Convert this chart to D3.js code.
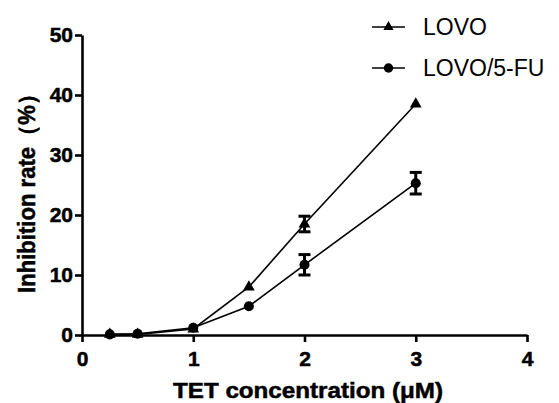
<!DOCTYPE html>
<html>
<head>
<meta charset="utf-8">
<script src="https://d3js.org/d3.v7.min.js"></script>
<style>
  body { margin: 0; background: #fff; }
  svg { font-family: "Liberation Sans", Arial, sans-serif; }
</style>
</head>
<body>
<div id="chart"></div>
<script>
// readings from the figure
let conc = [0.25, 0.5, 1, 1.5, 2, 3];
let lovo = [0.1, 0.1, 1.0, 8.0, 18.5, 38.5];
let lovoErr = [0, 0, 0, 0, 1.3, 0];
let lovo5fu = [0.1, 0.2, 1.2, 4.8, 11.7, 25.3];
let lovo5fuErr = [0, 0, 0, 0, 1.7, 1.8];
let xTicks = [0, 1, 2, 3, 4];
let yTicks = [0, 10, 20, 30, 40, 50];
let seriesNames = ["LOVO", "LOVO/5-FU"];

const width = 559,
    height = 403;

let x = d3.scaleLinear().domain([0, 4]).range([82, 527]);
let y = d3.scaleLinear().domain([0, 50]).range([335, 35]);

let svg = d3.select("#chart")
    .append("svg")
    .attr("width", width)
    .attr("height", height);

// axes
let xAxis = svg.append("g")
    .attr("transform", "translate(0," + y(0) + ")")
    .call(d3.axisBottom(x).tickValues(xTicks).tickFormat(d3.format("d")).tickSize(7).tickSizeOuter(0));
let yAxis = svg.append("g")
    .attr("transform", "translate(" + x(0) + ",0)")
    .call(d3.axisLeft(y).tickValues(yTicks).tickSize(7).tickSizeOuter(0));

[xAxis, yAxis].forEach(function (a) {
    a.select(".domain").attr("stroke", "#000").attr("stroke-width", 2.6);
    a.selectAll(".tick line").attr("stroke", "#000").attr("stroke-width", 2.6);
    a.selectAll("text")
        .attr("fill", "#000")
        .attr("stroke", "#000")
        .attr("stroke-width", 0.5)
        .style("font-size", "21px")
        .style("font-weight", "bold");
});
xAxis.selectAll("text").attr("dy", "1.0em");
yAxis.selectAll("text").attr("x", -9);

// axis titles
svg.append("text")
    .attr("x", 308)
    .attr("y", 398)
    .attr("text-anchor", "middle")
    .attr("stroke", "#000")
    .attr("stroke-width", 0.5)
    .style("font-size", "22px")
    .style("font-weight", "bold")
    .attr("textLength", 270)
    .attr("lengthAdjust", "spacingAndGlyphs")
    .text("TET concentration (μM)");

svg.append("text")
    .attr("transform", "translate(35,188) rotate(-90)")
    .attr("text-anchor", "middle")
    .attr("stroke", "#000")
    .attr("stroke-width", 0.5)
    .style("font-size", "23px")
    .style("font-weight", "bold")
    .attr("textLength", 210)
    .attr("lengthAdjust", "spacingAndGlyphs")
    .text("Inhibition rate（%）");

let series = [
    { name: seriesNames[0], values: lovo, err: lovoErr, symbol: d3.symbolTriangle },
    { name: seriesNames[1], values: lovo5fu, err: lovo5fuErr, symbol: d3.symbolCircle }
];

let line = d3.line()
    .x(function (d) { return x(d[0]); })
    .y(function (d) { return y(d[1]); });

series.forEach(function (s) {
    let pts = conc.map(function (c, i) { return [c, s.values[i], s.err[i]]; });

    svg.append("path")
        .datum(pts)
        .attr("d", line)
        .attr("fill", "none")
        .attr("stroke", "#000")
        .attr("stroke-width", 1.6);

    let eb = svg.append("g")
        .selectAll("g")
        .data(pts.filter(function (d) { return d[2] > 0; }))
        .enter()
        .append("g");
    eb.append("line")
        .attr("x1", function (d) { return x(d[0]); })
        .attr("x2", function (d) { return x(d[0]); })
        .attr("y1", function (d) { return y(d[1] - d[2]); })
        .attr("y2", function (d) { return y(d[1] + d[2]); })
        .attr("stroke", "#000")
        .attr("stroke-width", 3);
    [-1, 1].forEach(function (sg) {
        eb.append("line")
            .attr("x1", function (d) { return x(d[0]) - 6; })
            .attr("x2", function (d) { return x(d[0]) + 6; })
            .attr("y1", function (d) { return y(d[1] + sg * d[2]); })
            .attr("y2", function (d) { return y(d[1] + sg * d[2]); })
            .attr("stroke", "#000")
            .attr("stroke-width", 3);
    });

    svg.append("g")
        .selectAll("path")
        .data(pts)
        .enter()
        .append("path")
        .attr("d", d3.symbol().type(s.symbol).size(s.symbol === d3.symbolCircle ? 80 : 60))
        .attr("transform", function (d) { return "translate(" + x(d[0]) + "," + y(d[1]) + ")"; })
        .attr("fill", "#000");
});

// legend
let legend = svg.append("g")
    .selectAll("g")
    .data(series)
    .enter()
    .append("g")
    .attr("transform", function (d, i) { return "translate(372," + (27 + i * 41) + ")"; });
legend.append("line")
    .attr("x1", 0).attr("x2", 33)
    .attr("stroke", "#000")
    .attr("stroke-width", 1.6);
legend.append("path")
    .attr("d", function (d) { return d3.symbol().type(d.symbol).size(d.symbol === d3.symbolCircle ? 70 : 45)(); })
    .attr("transform", "translate(16.5,0)")
    .attr("fill", "#000");
legend.append("text")
    .attr("x", 51)
    .attr("y", 8)
    .style("font-size", "23px")
    .text(function (d) { return d.name; });
</script>
</body>
</html>
